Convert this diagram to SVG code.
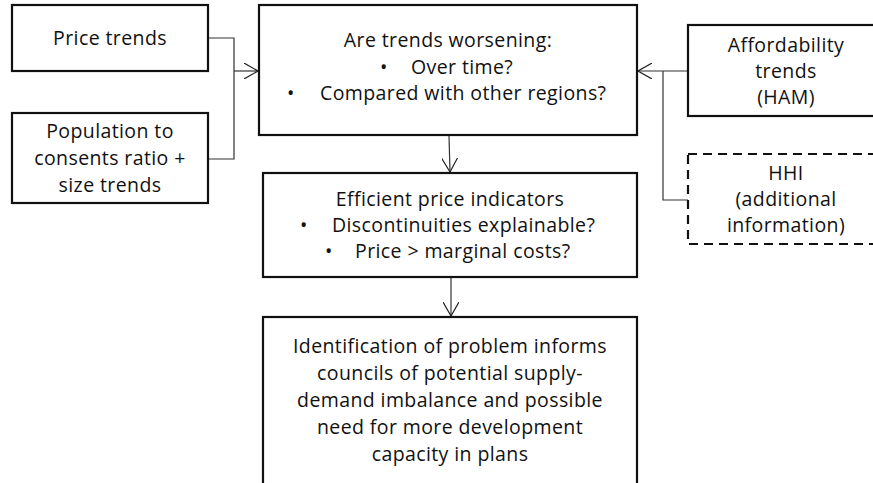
<svg xmlns="http://www.w3.org/2000/svg" width="873" height="483" viewBox="0 0 873 483">
  <defs>
    <marker id="arrow" viewBox="0 0 14 16" refX="14" refY="8" markerWidth="14" markerHeight="16" markerUnits="userSpaceOnUse" orient="auto">
      <path d="M0,0 L14,8 L0,16" fill="none" stroke="#222" stroke-width="1.2"/>
    </marker>
  </defs>
  <style>
    .box { fill: #fff; stroke: #111; stroke-width: 2.2; }
    .dashed { stroke-dasharray: 9 6; }
    .conn { fill: none; stroke: #333; stroke-width: 1.2; }
    text { font-family: "Open Sans", "Liberation Sans", sans-serif; font-size: 19.5px; letter-spacing: 0.4px; fill: #111; text-anchor: middle; }
    .bul { text-anchor: start; }
  </style>
  <rect width="873" height="483" fill="#fff"/>

  <g id="connectors">
    <polyline class="conn" points="208,38 234,38 234,159 208,159"/>
    <line class="conn" x1="234" y1="71" x2="258" y2="71" marker-end="url(#arrow)"/>
    <line class="conn" x1="688" y1="71" x2="638" y2="71" marker-end="url(#arrow)"/>
    <polyline class="conn" points="688,200 663,200 663,71"/>
    <line class="conn" x1="449" y1="136" x2="450" y2="172" marker-end="url(#arrow)"/>
    <line class="conn" x1="451" y1="278" x2="451" y2="316" marker-end="url(#arrow)"/>
  </g>

  <g id="price-trends">
    <rect class="box" x="12" y="5" width="196" height="66"/>
    <text x="110" y="45">Price trends</text>
  </g>

  <g id="population">
    <rect class="box" x="12" y="113" width="196" height="90"/>
    <text x="110" y="138">Population to</text>
    <text x="110" y="165">consents ratio +</text>
    <text x="110" y="192">size trends</text>
  </g>

  <g id="worsening">
    <rect class="box" x="259" y="5" width="378" height="130"/>
    <text x="448" y="47">Are trends worsening:</text>
    <text class="bul" x="380" y="74">•</text>
    <text class="bul" x="411" y="74">Over time?</text>
    <text class="bul" x="287" y="100">•</text>
    <text class="bul" x="320" y="100">Compared with other regions?</text>
  </g>

  <g id="affordability">
    <rect class="box" x="688" y="25" width="200" height="91"/>
    <text x="786" y="52">Affordability</text>
    <text x="786" y="78">trends</text>
    <text x="786" y="104">(HAM)</text>
  </g>

  <g id="hhi">
    <rect class="box dashed" x="688" y="154" width="200" height="90"/>
    <text x="786" y="180">HHI</text>
    <text x="786" y="206">(additional</text>
    <text x="786" y="232">information)</text>
  </g>

  <g id="efficient">
    <rect class="box" x="263" y="173" width="374" height="104"/>
    <text x="450" y="206">Efficient price indicators</text>
    <text class="bul" x="300" y="232">•</text>
    <text class="bul" x="332" y="232">Discontinuities explainable?</text>
    <text class="bul" x="325" y="258">•</text>
    <text class="bul" x="355" y="258">Price &gt; marginal costs?</text>
  </g>

  <g id="outcome">
    <rect class="box" x="263" y="317" width="374" height="180"/>
    <text x="450" y="353">Identification of problem informs</text>
    <text x="450" y="380">councils of potential supply-</text>
    <text x="450" y="407">demand imbalance and possible</text>
    <text x="450" y="434">need for more development</text>
    <text x="450" y="461">capacity in plans</text>
  </g>
</svg>
